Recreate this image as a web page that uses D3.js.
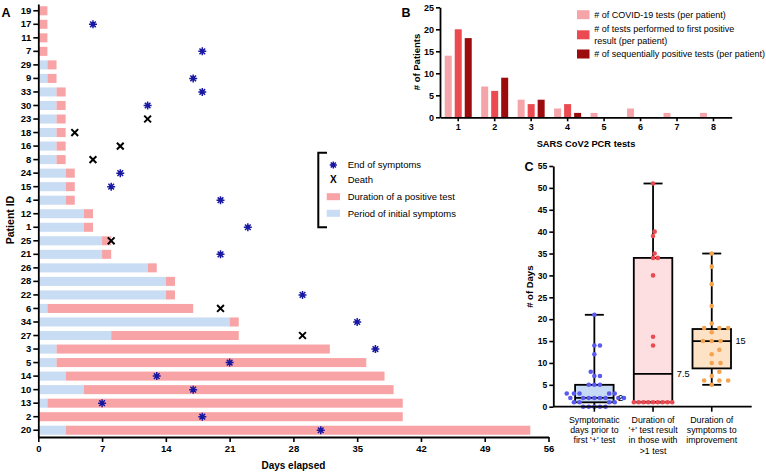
<!DOCTYPE html>
<html><head><meta charset="utf-8">
<script src="https://cdn.jsdelivr.net/npm/d3@7"></script>
<style>
body{margin:0;background:#fff;}
svg{display:block;font-family:"Liberation Sans",Arial,sans-serif;}
</style></head><body>
<svg id="chart" width="766" height="472"></svg>
<script>
// ---------- Panel A data ----------
const patientIds = [19,17,11,7,29,9,33,30,23,18,16,8,24,15,4,12,1,25,21,26,28,22,6,34,27,3,5,14,10,13,2,20];
const symptomEnd = [0,0,0,0,1,1,2,2,2,2,2,2,3,3,3,5,5,7,7,12,14,14,1,21,8,2,2,3,5,1,0,3];
const positiveEnd = [1,1,1,1,2,2,3,3,3,3,3,3,4,4,4,6,6,8,8,13,15,15,17,22,22,32,36,38,39,40,40,54];
const endOfSymptomsDay = [null,6,null,18,null,17,18,12,null,null,null,null,9,8,20,null,23,null,20,null,null,29,null,35,null,37,21,13,17,7,18,31];
const deathDay = [null,null,null,null,null,null,null,null,12,4,9,6,null,null,null,null,null,8,null,null,null,null,20,null,29,null,null,null,null,null,null,null];
const dayTicks = [0,7,14,21,28,35,42,49,56];
const legendA = ["End of symptoms","Death","Duration of a positive test","Period of initial symptoms"];

// ---------- Panel B data ----------
const testCounts = [1,2,3,4,5,6,7,8];
const seriesB = ["# of COVID-19 tests (per patient)","# of tests performed to first positive|result (per patient)","# of sequentially positive tests (per patient)"];
const covidTests = [14,7,4,2,1,2,1,1];
const testsToFirstPositive = [20,6,3,3,0,0,0,0];
const sequentialPositive = [18,9,4,1,0,0,0,0];
const patientTicks = [0,5,10,15,20,25];

// ---------- Panel C data ----------
const groupsC = ["Symptomatic|days prior to|first '+' test","Duration of|'+' test result|in those with|>1 test","Duration of|symptoms to|improvement"];
const symptomDaysPts = [0,0,0,0,0,1,1,1,1,2,2,2,2,2,2,2,2,3,3,3,3,3,5,5,5,7,7,8,12,14,14,21];
const positiveDurPts = [1,1,1,1,1,1,1,1,1,14,16,30,34,34,35,39,40,51];
const improvementPts = [5,6,6,6,7,8,10,10,12,13,15,15,15,17,18,18,18,19,23,28,32,35];
const boxMin = [0,1,5];
const boxQ1 = [1,1,8.75];
const boxMedian = [2,7.5,15];
const boxQ3 = [5,34,17.75];
const boxMax = [21,51,35];
const medianLabels = ["2","7.5","15"];
const dayTicksC = [0,5,10,15,20,25,30,35,40,45,50,55];

const svg = d3.select("#chart");
const BLUE_BAR = "#c8dcf4", PINK_BAR = "#f8a3a6", STAR = "#1818a2";

function styleAxis(g, fs){
  g.selectAll(".domain").attr("stroke","#000").attr("stroke-width",1.8);
  g.selectAll(".tick line").attr("stroke","#000").attr("stroke-width",1.6);
  g.selectAll(".tick text").attr("fill","#000").attr("font-weight","bold")
   .attr("font-size",fs).attr("font-family","'Liberation Sans',Arial,sans-serif");
}
function asterisk(sel, cx, cy, r){
  let d = "";
  for (let k=0;k<4;k++){
    const a = k*Math.PI/4;
    d += `M${cx-r*Math.cos(a)},${cy-r*Math.sin(a)}L${cx+r*Math.cos(a)},${cy+r*Math.sin(a)}`;
  }
  sel.append("path").attr("d",d).attr("stroke",STAR).attr("stroke-width",1.5).attr("fill","none");
  sel.append("circle").attr("cx",cx).attr("cy",cy).attr("r",2).attr("fill",STAR);
}
function cross(sel, cx, cy, r){
  sel.append("path").attr("d",`M${cx-r},${cy-r}L${cx+r},${cy+r}M${cx-r},${cy+r}L${cx+r},${cy-r}`)
    .attr("stroke","#000").attr("stroke-width",2).attr("fill","none");
}

// ================= Panel A =================
const xA = d3.scaleLinear().domain([0,56]).range([38.3,548.5]);
const yA = d3.scaleBand().domain(patientIds.map(String)).range([4,437]).paddingInner(0.333).paddingOuter(0.1665);
const gA = svg.append("g");
patientIds.forEach((id,i)=>{
  const y0 = yA(String(id)), h = yA.bandwidth();
  if (symptomEnd[i] > 0)
    gA.append("rect").attr("x",xA(0)).attr("y",y0).attr("width",xA(symptomEnd[i])-xA(0)).attr("height",h).attr("fill",BLUE_BAR);
  gA.append("rect").attr("x",xA(symptomEnd[i])).attr("y",y0).attr("width",xA(positiveEnd[i])-xA(symptomEnd[i])).attr("height",h).attr("fill",PINK_BAR);
});
patientIds.forEach((id,i)=>{
  const cy = yA(String(id)) + yA.bandwidth()/2;
  if (endOfSymptomsDay[i] != null) asterisk(gA, xA(endOfSymptomsDay[i]), cy, 4);
  if (deathDay[i] != null) cross(gA, xA(deathDay[i]), cy, 3.4);
});
const axYA = gA.append("g").attr("transform",`translate(${xA(0)},0)`)
  .call(d3.axisLeft(yA).tickSize(5).tickPadding(2).tickSizeOuter(0));
styleAxis(axYA, 9.5);
const axXA = gA.append("g").attr("transform",`translate(0,437)`)
  .call(d3.axisBottom(xA).tickValues(dayTicks).tickSize(5).tickPadding(3).tickSizeOuter(0));
styleAxis(axXA, 9.5);
gA.append("text").attr("x",(xA(0)+xA(56))/2).attr("y",469).attr("text-anchor","middle")
  .attr("font-weight","bold").attr("font-size",10).text("Days elapsed");
gA.append("text").attr("transform","translate(13.5,220) rotate(-90)").attr("text-anchor","middle")
  .attr("font-weight","bold").attr("font-size",10.5).text("Patient ID");
svg.append("text").attr("x",1.5).attr("y",17).attr("font-weight","bold").attr("font-size",12.5).text("A");

// legend A
const lg = svg.append("g");
lg.append("path").attr("d","M327,152.7H318.3V227.3H327").attr("stroke","#000").attr("stroke-width",2).attr("fill","none");
const legY = [165,179.3,196.7,213.3];
asterisk(lg, 333.3, legY[0], 3.6);
lg.append("text").attr("x",333.3).attr("y",legY[1]+3.6).attr("text-anchor","middle").attr("font-weight","bold").attr("font-size",10).text("X");
lg.append("rect").attr("x",326.7).attr("y",legY[2]-3.5).attr("width",13.3).attr("height",7).attr("fill",PINK_BAR);
lg.append("rect").attr("x",326.7).attr("y",legY[3]-3.5).attr("width",13.3).attr("height",7).attr("fill",BLUE_BAR);
legendA.forEach((t,i)=>{
  lg.append("text").attr("x",347.7).attr("y",legY[i]+3.4).attr("font-size",9.5).text(t);
});

// ================= Panel B =================
const xB = d3.scaleBand().domain(testCounts).range([440,731.7]);
const xBs = d3.scaleBand().domain([0,1,2]).range([-15,15]).paddingInner(0.3).paddingOuter(0.15);
const yB = d3.scaleLinear().domain([0,25]).range([117.3,7.3]);
const colorsB = ["#f5a5aa","#ea4a50","#9c0b0d"];
const seriesVals = [covidTests, testsToFirstPositive, sequentialPositive];
const gB = svg.append("g");
seriesVals.forEach((vals,s)=>{
  gB.selectAll(null).data(testCounts).enter().append("rect")
    .attr("x",(c)=>xB(c)+xB.bandwidth()/2+xBs(s))
    .attr("width",xBs.bandwidth())
    .attr("y",(c,i)=>yB(vals[i]))
    .attr("height",(c,i)=>yB(0)-yB(vals[i]))
    .attr("fill",colorsB[s]);
});
const axYB = gB.append("g").attr("transform","translate(440,0)")
  .call(d3.axisLeft(yB).tickValues(patientTicks).tickSize(4).tickPadding(2).tickSizeOuter(0));
styleAxis(axYB, 9);
const axXB = gB.append("g").attr("transform",`translate(0,${yB(0)})`)
  .call(d3.axisBottom(xB).tickSize(4).tickPadding(2).tickSizeOuter(0));
styleAxis(axXB, 9);
gB.append("text").attr("x",586).attr("y",146.5).attr("text-anchor","middle").attr("font-weight","bold").attr("font-size",9.3).text("SARS CoV2 PCR tests");
gB.append("text").attr("transform","translate(420,62) rotate(-90)").attr("text-anchor","middle").attr("font-weight","bold").attr("font-size",9.5).text("# of Patients");
svg.append("text").attr("x",401.5).attr("y",17).attr("font-weight","bold").attr("font-size",12.5).text("B");
// legend B
const legBY = [14.7,34.8,54];
seriesB.forEach((t,i)=>{
  gB.append("rect").attr("x",577).attr("y",legBY[i]-4.5).attr("width",12.5).attr("height",9).attr("fill",colorsB[i]);
  const lines = t.split("|");
  lines.forEach((ln,j)=>{
    gB.append("text").attr("x",594.3).attr("y",legBY[i]+3.2+(j-(lines.length-1)/2)*11.7).attr("font-size",9).text(ln);
  });
});

// ================= Panel C =================
const xC = d3.scaleBand().domain(groupsC).range([565,741.1]).paddingInner(0.344).paddingOuter(0.172);
const yC = d3.scaleLinear().domain([0,55]).range([406.7,166]);
const gC = svg.append("g");
const boxFill = ["#c6daf6","#fddfe2","#fde2c6"];
const dotCol = ["#5a5af0","#ea4a50","#f4a34e"];
const ptsC = [symptomDaysPts, positiveDurPts, improvementPts];
const swarmGap = [5.5, 4.6, 8.5];
function swarm(values, cx, ys, gap){
  const placed = [];
  const sorted = values.slice().sort((a,b)=>a-b);
  for (const v of sorted){
    const py = ys(v);
    let best = null;
    for (let k=0;k<400 && best===null;k++){
      const cands = k===0 ? [0] : [k*0.4,-k*0.4];
      for (const off of cands){
        const px = cx+off;
        if (placed.every(q=>(q.x-px)**2+(q.y-py)**2 >= gap*gap)){ best = px; break; }
      }
    }
    placed.push({x:best,y:py});
  }
  return placed;
}
groupsC.forEach((g,i)=>{
  const cx = xC(g)+xC.bandwidth()/2, bw = xC.bandwidth();
  const box = gC.append("g");
  box.append("rect").attr("x",cx-bw/2).attr("y",yC(boxQ3[i])).attr("width",bw).attr("height",yC(boxQ1[i])-yC(boxQ3[i]))
    .attr("fill",boxFill[i]).attr("stroke","#000").attr("stroke-width",1.8);
  box.append("line").attr("x1",cx-bw/2).attr("x2",cx+bw/2).attr("y1",yC(boxMedian[i])).attr("y2",yC(boxMedian[i])).attr("stroke","#000").attr("stroke-width",1.8);
  box.append("line").attr("x1",cx).attr("x2",cx).attr("y1",yC(boxQ3[i])).attr("y2",yC(boxMax[i])).attr("stroke","#000").attr("stroke-width",1.8);
  box.append("line").attr("x1",cx).attr("x2",cx).attr("y1",yC(boxQ1[i])).attr("y2",yC(boxMin[i])).attr("stroke","#000").attr("stroke-width",1.8);
  box.append("line").attr("x1",cx-9.5).attr("x2",cx+9.5).attr("y1",yC(boxMax[i])).attr("y2",yC(boxMax[i])).attr("stroke","#000").attr("stroke-width",1.8);
  box.append("line").attr("x1",cx-9.5).attr("x2",cx+9.5).attr("y1",yC(boxMin[i])).attr("y2",yC(boxMin[i])).attr("stroke","#000").attr("stroke-width",1.8);
  const dots = swarm(ptsC[i], cx, yC, swarmGap[i]);
  box.selectAll(null).data(dots).enter().append("circle")
    .attr("cx",d=>d.x).attr("cy",d=>d.y).attr("r",2.3).attr("fill",dotCol[i]);
  box.append("text").attr("x",cx+bw/2+4.5).attr("y",yC(boxMedian[i])+3.3).attr("font-size",9.2).text(medianLabels[i]);
  const lines = g.split("|");
  lines.forEach((ln,j)=>{
    gC.append("text").attr("x",cx).attr("y",422.6+j*10.3).attr("text-anchor","middle").attr("font-size",8.8).text(ln);
  });
});
const axYC = gC.append("g").attr("transform","translate(553.3,0)")
  .call(d3.axisLeft(yC).tickValues(dayTicksC).tickSize(4).tickPadding(2).tickSizeOuter(0));
styleAxis(axYC, 8.5);
const axXC = gC.append("g").attr("transform",`translate(0,${yC(0)})`)
  .call(d3.axisBottom(xC).tickSize(5).tickSizeOuter(0).tickFormat(""));
styleAxis(axXC, 8.5);
axXC.select(".domain").attr("d","M553.3,0H751.7");
gC.append("text").attr("transform","translate(533,286.7) rotate(-90)").attr("text-anchor","middle").attr("font-weight","bold").attr("font-size",9.5).text("# of Days");
svg.append("text").attr("x",524.5).attr("y",170.5).attr("font-weight","bold").attr("font-size",12.5).text("C");
</script>
</body></html>
